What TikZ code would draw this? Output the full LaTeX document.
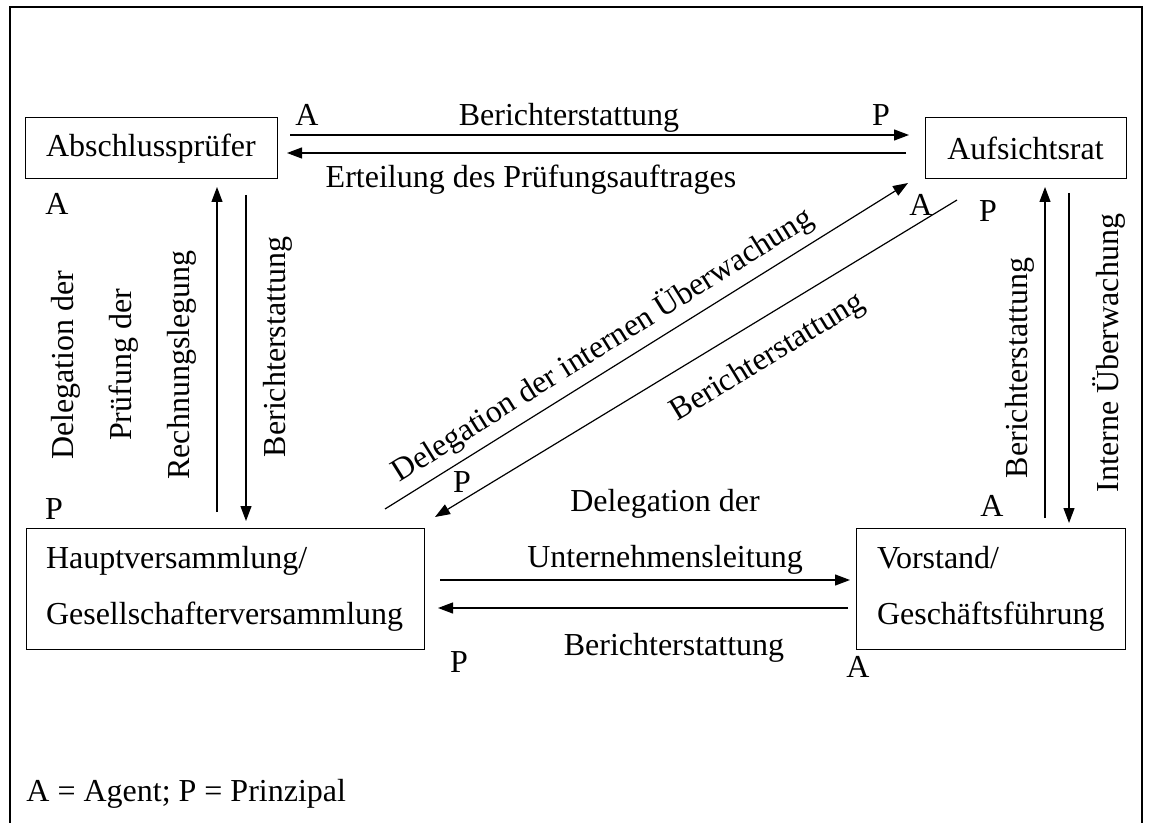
\documentclass[tikz,border=0pt]{standalone}
\usepackage{fontspec}
\setmainfont{Liberation Serif}
\usetikzlibrary{arrows.meta}
\begin{document}
\begin{tikzpicture}[x=0.5pt,y=-0.5pt,
  every node/.style={font=\fontsize{16}{28}\selectfont, inner sep=0pt},
  box/.style={draw, line width=0.5pt},
  arr/.style={-{Triangle[length=7.5pt,width=5.5pt]}, line width=0.6pt}]
\useasboundingbox (0,0) rectangle (1150,823);
\draw[line width=1pt] (10,823) -- (10,7) -- (1142,7) -- (1142,823);

% boxes
\node[box, minimum width=126pt, minimum height=30.5pt] (ap) at (151,148.5) {Abschlussprüfer};
\node[box, minimum width=100.5pt, minimum height=30.5pt] (ar) at (1025.5,148.5) {Aufsichtsrat};
\node[box, align=left, inner xsep=10pt, text width=179pt, minimum height=60.5pt] (hv) at (225,588.5) {Hauptversammlung/\\Gesellschafterversammlung};
\node[box, align=left, inner xsep=10.5pt, text width=113.5pt, minimum height=60.5pt] (vs) at (990.5,588.5) {Vorstand/\\Geschäftsführung};

% connector end points
\coordinate (t1s) at (290,135); \coordinate (t1e) at (909,135);
\coordinate (t2s) at (906,153); \coordinate (t2e) at (287,153);
\coordinate (l1s) at (217,512); \coordinate (l1e) at (217,187);
\coordinate (l2s) at (246,195); \coordinate (l2e) at (246,521);
\coordinate (r1s) at (1045,518); \coordinate (r1e) at (1045,187);
\coordinate (r2s) at (1069,193); \coordinate (r2e) at (1069,523);
\coordinate (d1s) at (385,509); \coordinate (d1e) at (908,183);
\coordinate (d2s) at (957,200); \coordinate (d2e) at (435,517);
\coordinate (b1s) at (440,580); \coordinate (b1e) at (850,580);
\coordinate (b2s) at (848,608); \coordinate (b2e) at (438,608);

\draw[arr] (t1s) -- (t1e);
\draw[arr] (t2s) -- (t2e);
\draw[arr] (l1s) -- (l1e);
\draw[arr] (l2s) -- (l2e);
\draw[arr] (r1s) -- (r1e);
\draw[arr] (r2s) -- (r2e);
\draw[arr] (d1s) -- (d1e);
\draw[arr] (d2s) -- (d2e);
\draw[arr] (b1s) -- (b1e);
\draw[arr] (b2s) -- (b2e);

% A / P markers
\node (m1) at (307,115) {A};
\node (m2) at (881,115.5) {P};
\node (m3) at (57,204) {A};
\node (m4) at (921,205) {A};
\node (m5) at (988,211) {P};
\node (m6) at (54,509) {P};
\node (m7) at (992,506) {A};
\node (m8) at (462,482) {P};
\node (m9) at (459,662) {P};
\node (m10) at (858,667) {A};

% connector labels
\node[anchor=base] (lt1) at (569,125.5) {Berichterstattung};
\node[anchor=base] (lt2) at (531,188) {Erteilung des Prüfungsauftrages};
\node[rotate=90, align=center, font=\fontsize{16}{29}\selectfont] (ll1) at (123.5,365) {Delegation der\\Prüfung der\\Rechnungslegung};
\node[rotate=90] (ll2) at (278,347) {Berichterstattung};
\node[rotate=90] (lr1) at (1020,368) {Berichterstattung};
\node[rotate=90] (lr2) at (1109,353) {Interne Überwachung};
\node[rotate=32] (ld1) at (602,345) {Delegation der internen Überwachung};
\node[rotate=31.3] (ld2) at (768,358) {Berichterstattung};
\node[align=center] (lb1) at (665,531.5) {Delegation der\\Unternehmensleitung};
\node[anchor=base] (lb2) at (674,655) {Berichterstattung};

\node[anchor=base west] (leg) at (26,801) {A = Agent; P = Prinzipal};
\end{tikzpicture}
\end{document}
